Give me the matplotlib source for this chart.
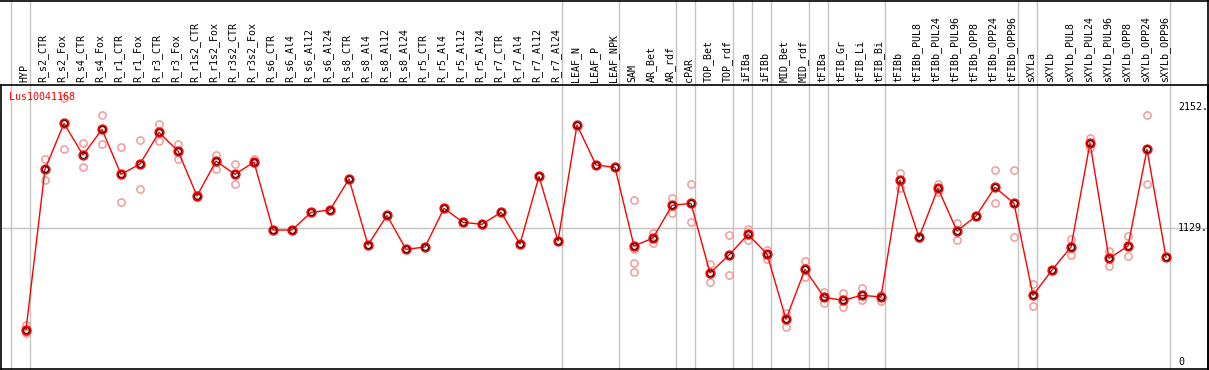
import numpy as np
import matplotlib
matplotlib.use("Agg")
import matplotlib.pyplot as plt
from matplotlib.lines import Line2D

# categories along x
labels = ["HYP", "R_s2_CTR", "R_s2_Fox", "R_s4_CTR", "R_s4_Fox", "R_r1_CTR", "R_r1_Fox",
          "R_r3_CTR", "R_r3_Fox", "R_r1s2_CTR", "R_r1s2_Fox", "R_r3s2_CTR", "R_r3s2_Fox",
          "R_s6_CTR", "R_s6_Al4", "R_s6_Al12", "R_s6_Al24", "R_s8_CTR", "R_s8_Al4",
          "R_s8_Al12", "R_s8_Al24", "R_r5_CTR", "R_r5_Al4", "R_r5_Al12", "R_r5_Al24",
          "R_r7_CTR", "R_r7_Al4", "R_r7_Al12", "R_r7_Al24", "LEAF_N", "LEAF_P", "LEAF_NPK",
          "SAM", "AR_Bet", "AR_rdf", "cPAR", "TOP_Bet", "TOP_rdf", "iFIBa", "iFIBb",
          "MID_Bet", "MID_rdf", "tFIBa", "tFIB_Gr", "tFIB_Li", "tFIB_Bi", "tFIBb",
          "tFIBb_PUL8", "tFIBb_PUL24", "tFIBb_PUL96", "tFIBb_OPP8", "tFIBb_OPP24",
          "tFIBb_OPP96", "sXYLa", "sXYLb", "sXYLb_PUL8", "sXYLb_PUL24", "sXYLb_PUL96",
          "sXYLb_OPP8", "sXYLb_OPP24", "sXYLb_OPP96"]

# mean expression per sample
means = [272, 1623, 2011, 1744, 1960, 1581, 1668, 1935, 1778, 1399, 1693, 1581, 1685,
         1112, 1112, 1261, 1281, 1542, 986, 1235, 949, 969, 1295, 1177, 1160,
         1261, 994, 1564, 1019, 1997, 1660, 1640,
         977, 1045, 1320, 1337, 750, 901, 1075, 910, 360, 781, 545, 520, 562, 548,
         1533, 1050, 1463, 1104, 1230, 1472, 1337, 562, 775, 969, 1845, 873, 977,
         1792, 882]

# replicate values
reps = [[312, 255, 244], [1708, 1533], [2222, 1792], [1842, 1640], [2078, 1833],
        [1808, 1345], [1867, 1454], [2002, 1859], [1837, 1708], [1410, 1388],
        [1741, 1626], [1665, 1497], [1710, 1674],
        [1112], [1112], [1261], [1281], [1542], [986], [1235], [949], [969], [1295],
        [1177], [1160], [1261], [994], [1564], [1019], [1997], [1660], [1640],
        [1365, 949, 831, 756], [1084, 1000], [1382, 1258], [1497, 1177], [826, 671],
        [1070, 730], [1123, 1028], [944, 871], [415, 298], [848, 713], [592, 500],
        [578, 466], [621, 520], [567, 517], [1589, 1466], [1055, 1045], [1500, 1432],
        [1171, 1025], [1230], [1618, 1337], [1618, 1050], [655, 469], [775],
        [1036, 899], [1890, 1800], [933, 811], [1061, 890], [2081, 1497], [882]]

# first index of each sample group (gray separators)
group_starts = [0, 1, 29, 32, 35, 36, 38, 39, 40, 42, 43, 46, 53, 54, 61]

ylabels = [2152, 1129, 0]

W, H = 1209, 370
fig = plt.figure(figsize=(W / 100, H / 100), dpi=100)
top_px = 85
ax = fig.add_axes([1 / W, 1 / H, (W - 2) / W, (369 - top_px) / H])
ax_h = 369 - top_px

ax.set_xlim((1 - 26) / 19, (1208 - 26) / 19)
ax.set_ylim(-59, 2334)
ax.set_xticks([])
ax.set_yticks([])
for s in ax.spines.values():
    s.set_color("black")
    s.set_linewidth(1.2)

mono = "DejaVu Sans Mono"
fs = 7.2
gray = "#c4c4c4"

# separators through plot and header
for g in group_starts:
    ax.axvline(g - 15 / 19, ymin=0, ymax=(369) / ax_h, color=gray, lw=1,
               clip_on=False, zorder=0)
ax.axhline(ylabels[1], color=gray, lw=1, zorder=0)

# header labels
xt = ax.get_xaxis_transform()
for i, lab in enumerate(labels):
    ax.text(i - 0.1, 1 + 3 / ax_h, lab, rotation=90, ha="center", va="bottom",
            transform=xt, fontsize=fs, family=mono, clip_on=False)

x = np.arange(len(labels))
# replicates
for i, r in enumerate(reps):
    ax.plot([i] * len(r), r, "o", ms=5.2, mfc="none", mec="#f09a9a", mew=1.1, zorder=2)
ax.plot(x, means, "-", color="red", lw=1, zorder=3)
ax.plot(x, means, "o", ms=6, mfc="none", mec="red", mew=1.4, zorder=4)
ax.plot(x, means, "o", ms=4.2, mfc="none", mec="#300000", mew=0.8, zorder=5)

# value labels at right
for v in ylabels:
    txt = "0" if v == 0 else f"{v}."
    ax.text((1178 - 26) / 19, v, txt, ha="left", va="center", fontsize=fs,
            family=mono, clip_on=False)

ax.text((9 - 26) / 19, 2233, "Lus10041168", color="red", ha="left", va="center",
        fontsize=fs, family=mono)

# outer frame lines
fig.add_artist(Line2D([0, 1], [1 - 0.5 / H, 1 - 0.5 / H], color="black", lw=1.2))
fig.add_artist(Line2D([1 - 1.5 / W, 1 - 1.5 / W], [0, 1], color="black", lw=1.2))

fig.savefig("out.png", dpi=100)
